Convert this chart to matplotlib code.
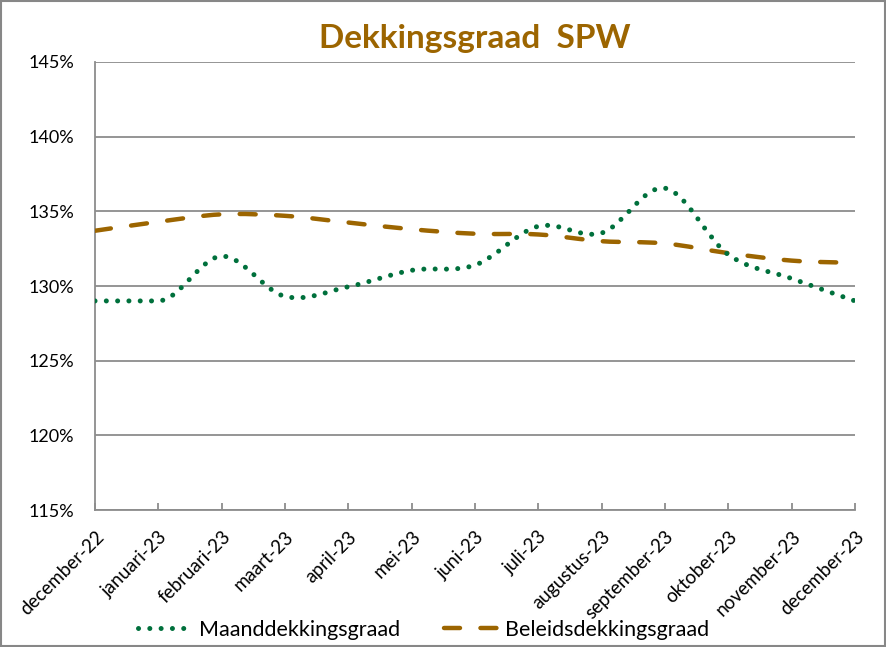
import numpy as np
import matplotlib
matplotlib.use("Agg")
import matplotlib.pyplot as plt
from matplotlib.path import Path
from matplotlib.patches import PathPatch, Rectangle
from matplotlib.lines import Line2D
from matplotlib.ticker import FuncFormatter

months = ['december-22', 'januari-23', 'februari-23', 'maart-23', 'april-23',
          'mei-23', 'juni-23', 'juli-23', 'augustus-23', 'september-23',
          'oktober-23', 'november-23', 'december-23']
maand = [129.0, 129.0, 132.0, 129.3, 129.95, 131.05, 131.4, 134.0, 133.55,
         136.55, 132.1, 130.5, 129.0]
beleid = [133.7, 134.3, 134.8, 134.7, 134.25, 133.8, 133.5, 133.45, 133.0,
          132.85, 132.2, 131.7, 131.55]

GREEN = '#00703c'
BROWN = '#9c6500'
GRID = '#8c8c8c'


def smooth_path(ys):
    # Excel-style smoothed line: cubic bezier through the points
    xs = np.arange(len(ys), dtype=float)
    pts = np.column_stack([xs, ys])
    n = len(pts)
    tang = []
    for i in range(n):
        p0 = pts[max(i - 1, 0)]
        p2 = pts[min(i + 1, n - 1)]
        t = (p2 - p0) / 6.0
        # keep flat stretches flat
        if (i > 0 and pts[i - 1][1] == pts[i][1]) or \
           (i < n - 1 and pts[i + 1][1] == pts[i][1]):
            t[1] = 0.0
        tang.append(t)
    verts = [pts[0]]
    codes = [Path.MOVETO]
    for i in range(n - 1):
        verts += [pts[i] + tang[i], pts[i + 1] - tang[i + 1], pts[i + 1]]
        codes += [Path.CURVE4] * 3
    return Path(verts, codes)


fig = plt.figure(figsize=(8.86, 6.47), dpi=100)
ax = fig.add_axes([95 / 886, 1 - 510 / 647, 760 / 886, 448 / 647])

dots = dict(linestyle=(0, (0.01, 2.25)), linewidth=3.6)
dashes = dict(linestyle=(0, (3.6, 4.6)), linewidth=3.2)

ax.add_patch(PathPatch(smooth_path(beleid), fill=False, edgecolor=BROWN,
                       capstyle='round', zorder=3, **dashes))
ax.add_patch(PathPatch(smooth_path(maand), fill=False, edgecolor=GREEN,
                       capstyle='round', zorder=4, **dots))

ax.set_xlim(0, len(months) - 1)
ax.set_ylim(115, 145)
ax.set_yticks(np.arange(115, 146, 5))
ax.yaxis.set_major_formatter(FuncFormatter(lambda v, p: '%d%%' % v))
ax.set_xticks(range(len(months)))
ax.set_xticklabels(months, rotation=45, ha='right', va='top',
                   rotation_mode='anchor')

ax.grid(axis='y', color=GRID, linewidth=1.3)
ax.set_axisbelow(True)
for s in ['top', 'right']:
    ax.spines[s].set_visible(False)
for s in ['left', 'bottom']:
    ax.spines[s].set_color(GRID)
    ax.spines[s].set_linewidth(1.3)
ax.tick_params(axis='y', length=0, pad=15, labelsize=13, labelcolor='black')
ax.tick_params(axis='x', direction='in', length=5, color=GRID, width=1.3,
               pad=13, labelsize=13.5)
for lab in ax.get_xticklabels() + ax.get_yticklabels():
    lab.set_fontfamily('Lato')

ax.set_title('Dekkingsgraad  SPW', fontsize=24, fontweight='bold',
             color=BROWN, family='Lato', pad=10)

handles = [Line2D([], [], color=GREEN, solid_capstyle='round',
                  dash_capstyle='round', **dots),
           Line2D([], [], color=BROWN, dash_capstyle='round', **dashes)]
fig.legend(handles, ['Maanddekkingsgraad', 'Beleidsdekkingsgraad'],
           loc='center', bbox_to_anchor=(0.478, 1 - 630 / 647), ncol=2,
           frameon=False, handlelength=2.6, handletextpad=0.27,
           columnspacing=2.0, prop={'family': 'Lato', 'size': 15.5})

fig.patches.append(Rectangle((0.001, 0.001), 0.998, 0.998,
                             transform=fig.transFigure, fill=False,
                             edgecolor='#878787', linewidth=1.5))

fig.savefig('out.png', dpi=100)
